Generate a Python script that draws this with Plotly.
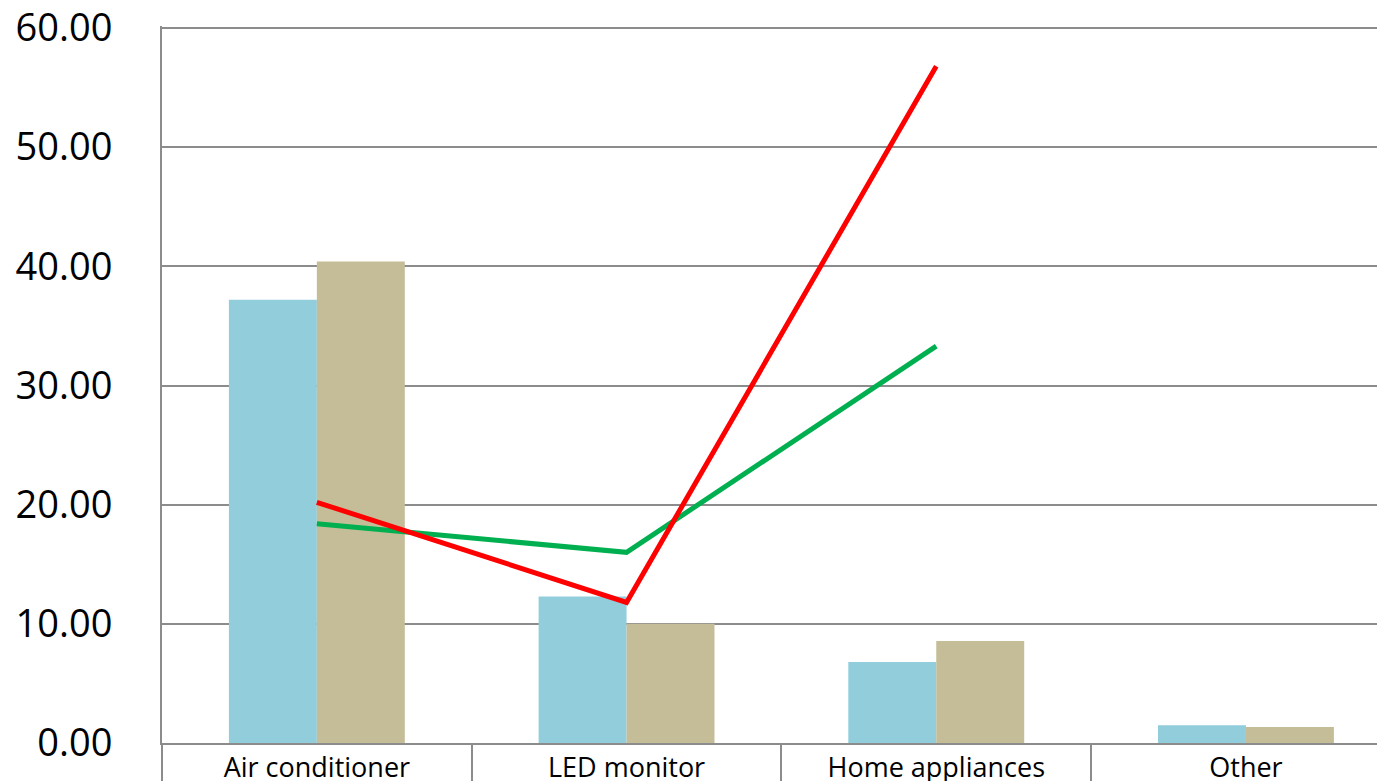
import plotly.graph_objects as go

categories = ["Air conditioner", "LED monitor", "Home appliances", "Other"]
bar_blue = [37.2, 12.3, 6.8, 1.5]
bar_tan = [40.4, 10.0, 8.55, 1.35]
line_green = [18.4, 16.0, 33.3, None]
line_red = [20.2, 11.8, 56.8, None]
y_ticks = [0, 10, 20, 30, 40, 50, 60]

GRAY = "#8c8c8c"
FONT = "Open Sans"

fig = go.Figure()
fig.add_trace(go.Bar(x=categories, y=bar_blue, marker=dict(color="#92CDDC", line=dict(width=0)), showlegend=False))
fig.add_trace(go.Bar(x=categories, y=bar_tan, marker=dict(color="#C4BD97", line=dict(width=0)), showlegend=False))
fig.add_trace(go.Scatter(x=categories, y=line_green, mode="lines", line=dict(color="#00B050", width=5), showlegend=False))
fig.add_trace(go.Scatter(x=categories, y=line_red, mode="lines", line=dict(color="#FF0000", width=5), showlegend=False))

# invisible helper trace to activate the divider axis
fig.add_trace(go.Scatter(x=[-0.5], y=[0], xaxis="x2", mode="markers", marker=dict(opacity=0), showlegend=False, hoverinfo="skip"))

n = len(categories)
x_range = [-0.5, -0.5 + (1385 - 162) / 309.7]
y_top = 60 * 717 / 715  # a little headroom so the top gridline is drawn

fig.update_layout(
    width=1377, height=773,
    margin=dict(l=154, r=0, t=18, b=38, autoexpand=False),
    paper_bgcolor="white", plot_bgcolor="white",
    barmode="group", bargap=0.432, bargroupgap=0,
    font=dict(family=FONT, color="black"),
    xaxis=dict(
        type="category", range=x_range, showline=True, linecolor=GRAY, linewidth=2,
        ticks="", showgrid=False, tickfont=dict(size=27, color="black", family=FONT),
        zeroline=False, automargin=False,
    ),
    xaxis2=dict(
        overlaying="x", anchor="y", range=x_range, showline=False, showgrid=False, zeroline=False,
        tickmode="array", tickvals=[i - 0.5 for i in range(n)], ticks="outside", ticklen=45,
        tickwidth=2, tickcolor=GRAY, showticklabels=False, automargin=False,
    ),
    yaxis=dict(
        range=[0, y_top], tickvals=y_ticks, tickformat=".2f", showline=True, linecolor=GRAY, linewidth=2,
        showgrid=True, gridcolor=GRAY, gridwidth=2, zeroline=False, ticks="",
        tickfont=dict(size=38, color="black", family=FONT), ticklabelstandoff=40,
        ticklabeloverflow="allow", automargin=False,
    ),
)

fig.write_html("out.html")
